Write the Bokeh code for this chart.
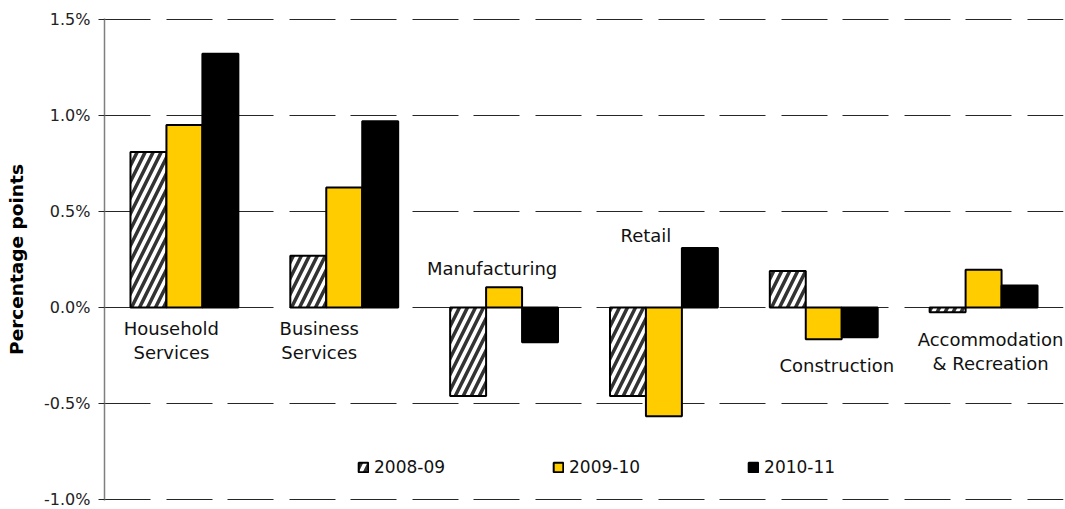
from bokeh.plotting import figure
from bokeh.models import (ColumnDataSource, Range1d, FactorRange, FixedTicker,
                          PrintfTickFormatter, Legend, LegendItem)
from bokeh.transform import dodge
from bokeh.core.properties import value
from bokeh.embed import file_html
from bokeh.resources import INLINE

# ---- data ----
categories = ["Household Services", "Business Services", "Manufacturing",
              "Retail", "Construction", "Accommodation & Recreation"]
series_names = ["2008-09", "2009-10", "2010-11"]
v_2008_09 = [0.81, 0.27, -0.46, -0.46, 0.19, -0.025]
v_2009_10 = [0.95, 0.625, 0.105, -0.565, -0.165, 0.197]
v_2010_11 = [1.32, 0.97, -0.18, 0.31, -0.155, 0.115]
y_ticks = [-1.0, -0.5, 0.0, 0.5, 1.0, 1.5]

# category label lines (text, category it belongs to)
label_text = ["Household", "Services", "Business", "Services", "Manufacturing",
              "Retail", "Construction", "Accommodation", "& Recreation"]
label_cat = ["Household Services", "Household Services", "Business Services",
             "Business Services", "Manufacturing", "Retail", "Construction",
             "Accommodation & Recreation", "Accommodation & Recreation"]
# placement of those labels
label_y = [-0.109, -0.234, -0.109, -0.234, 0.203, 0.375, -0.302, -0.167, -0.292]
label_dx = [-13, -13, -25, -25, -12, -18, 13, 7, 7]

src = ColumnDataSource(dict(cat=categories, a=v_2008_09, b=v_2009_10, c=v_2010_11))
lsrc = ColumnDataSource(dict(cat=label_cat, y=label_y, t=label_text, dx=label_dx))

p = figure(width=1064, height=508, output_backend="svg", toolbar_location=None,
           x_range=FactorRange(*categories, range_padding=0),
           y_range=Range1d(-1.004, 1.504),
           min_border_left=104, min_border_right=1, min_border_top=18,
           min_border_bottom=8)
p.outline_line_color = None
p.xaxis.visible = False
p.xgrid.visible = False

p.ygrid.grid_line_color = "#262626"
p.ygrid.grid_line_width = 1
p.ygrid.grid_line_dash = "46 16 46 15"
p.ygrid.ticker = FixedTicker(ticks=y_ticks)

ax = p.yaxis[0]
ax.ticker = FixedTicker(ticks=y_ticks)
ax.formatter = PrintfTickFormatter(format="%.1f%%")
ax.axis_line_color = "#7f7f7f"
ax.axis_line_width = 1.5
ax.major_tick_line_color = "#262626"
ax.major_tick_out = 6
ax.major_tick_in = 0
ax.minor_tick_line_color = None
ax.major_label_text_font = "DejaVu Sans"
ax.major_label_text_font_size = "16px"
ax.major_label_text_color = "#222222"
ax.major_label_standoff = 8
ax.axis_label = "Percentage points"
ax.axis_label_text_font = "DejaVu Sans"
ax.axis_label_text_font_style = "bold"
ax.axis_label_text_font_size = "18.5px"
ax.axis_label_text_color = "#000000"
ax.axis_label_standoff = 14

w = 0.225
r1 = p.vbar(x=dodge("cat", -w, range=p.x_range), top="a", width=w, source=src,
            fill_color="white", line_color="black", line_width=2,
            hatch_pattern="/", hatch_color="#333333", hatch_weight=3.5,
            hatch_scale=16)
r2 = p.vbar(x=dodge("cat", 0, range=p.x_range), top="b", width=w, source=src,
            fill_color="#FFCC00", line_color="black", line_width=2)
r3 = p.vbar(x=dodge("cat", w, range=p.x_range), top="c", width=w, source=src,
            fill_color="black", line_color="black", line_width=2)

p.text(x="cat", y="y", text="t", x_offset="dx", source=lsrc,
       text_align="center", text_baseline="middle",
       text_font=value("DejaVu Sans"), text_font_size="18px",
       text_color="#111111")

legend = Legend(items=[LegendItem(label=series_names[0], renderers=[r1]),
                       LegendItem(label=series_names[1], renderers=[r2]),
                       LegendItem(label=series_names[2], renderers=[r3])],
                orientation="horizontal", location=(253, 23),
                spacing=107, padding=0, margin=0,
                glyph_width=12, glyph_height=12, label_standoff=5,
                label_text_font="DejaVu Sans", label_text_font_size="17px",
                label_text_color="#111111",
                border_line_alpha=0, background_fill_alpha=0)
p.add_layout(legend, "center")

open("out.html", "w").write(file_html(p, INLINE))
